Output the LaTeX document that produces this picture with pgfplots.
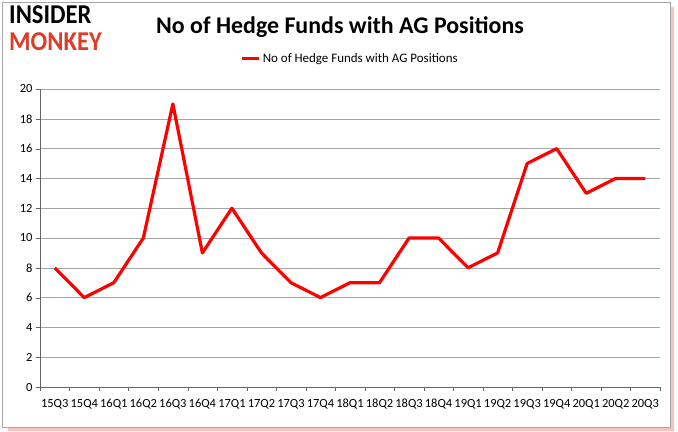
\documentclass[border=0pt]{standalone}
\usepackage{pgfplots}
\pgfplotsset{compat=1.18}
\usepackage{fontspec}
\setmainfont{Carlito}
\definecolor{imred}{RGB}{220,60,40}
\begin{document}
\begin{tikzpicture}[x=1bp,y=1bp]
\path[use as bounding box] (0,0) rectangle (678,431);
% frame with shadow
\fill[red!25] (8,0) rectangle (674,424);
\fill[white] (2,4) rectangle (670,429);
\draw[gray!70,line width=0.8bp] (2,4) rectangle (670,429);
% logo
\node[anchor=north west,align=left,font=\fontsize{26}{26}\selectfont\bfseries,inner sep=0,xscale=0.95,yscale=1.05] at (9,426) {INSIDER\\\textcolor{imred}{MONKEY}};
% title
\node[font=\fontsize{24}{24}\selectfont\bfseries] at (340,404) {No of Hedge Funds with AG Positions};
\begin{axis}[
  at={(40bp,44bp)}, anchor=south west,
  scale only axis, width=620bp, height=298bp,
  xmin=-0.5, xmax=20.5, ymin=0, ymax=20,
  ytick={0,2,...,20},
  xtick={0,...,20},
  xticklabels={15Q3,15Q4,16Q1,16Q2,16Q3,16Q4,17Q1,17Q2,17Q3,17Q4,18Q1,18Q2,18Q3,18Q4,19Q1,19Q2,19Q3,19Q4,20Q1,20Q2,20Q3},
  minor xtick={-0.5,0.5,...,20.5},
  major x tick style={draw=none},
  minor tick length=4bp,
  major tick length=4bp,
  tick align=outside,
  xminorgrids=false,
  minor tick style={gray!80!black},
  tick style={gray!80!black},
  ymajorgrids, grid style={gray!70},
  axis x line*=bottom, axis y line*=left,
  axis line style={gray!80!black},
  x axis line style={-}, y axis line style={-},
  ticklabel style={font=\fontsize{12.5}{13}\selectfont},
  /pgf/number format/assume math mode=true,
  xticklabel style={inner sep=0pt, yshift=-8bp},
  legend style={at={(0.5,1.07)},anchor=south,draw=none,font=\fontsize{13}{14}\selectfont,legend columns=1},
  legend image post style={line width=3.5bp},
  legend cell align=left,
  clip=false,
]
\addplot[red, line width=3.2bp, line join=round] coordinates {
(0,8)(1,6)(2,7)(3,10)(4,19)(5,9)(6,12)(7,9)(8,7)(9,6)(10,7)(11,7)(12,10)(13,10)(14,8)(15,9)(16,15)(17,16)(18,13)(19,14)(20,14)};
\addlegendentry{No of Hedge Funds with AG Positions}
\end{axis}
\end{tikzpicture}
\end{document}
